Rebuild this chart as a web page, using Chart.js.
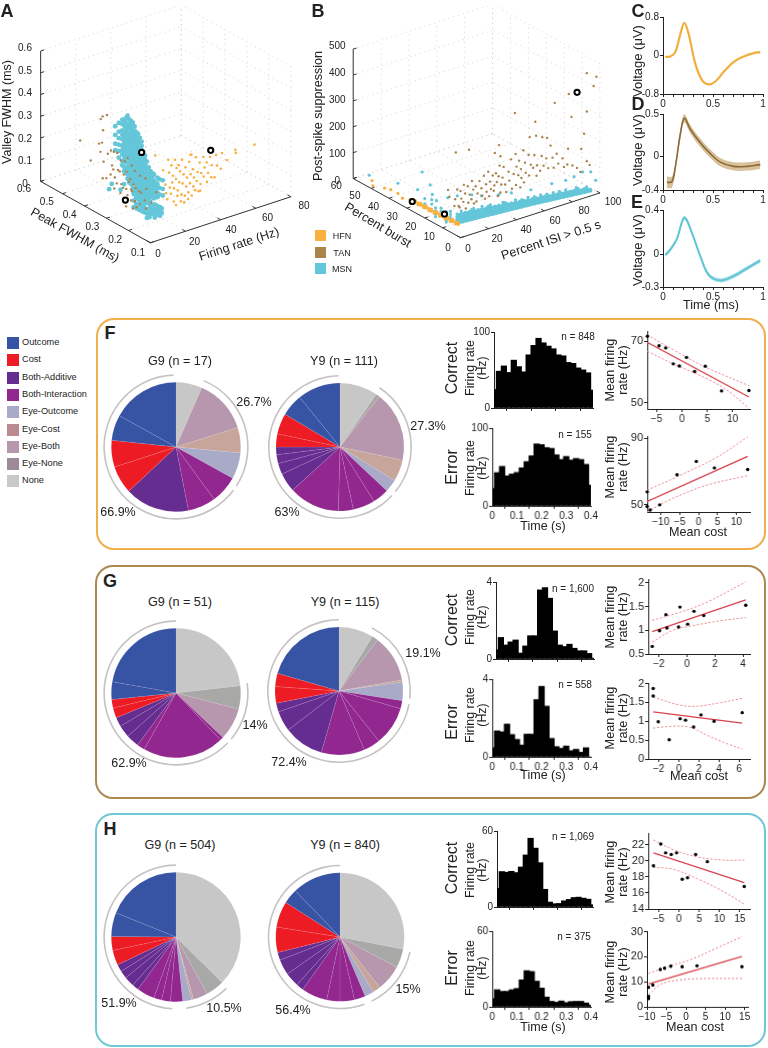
<!DOCTYPE html>
<html>
<head>
<meta charset="utf-8">
<title>Neuron classes and cost coding</title>
<script src="https://cdn.jsdelivr.net/npm/chart.js@4/dist/chart.umd.js"></script>
<style>
  html, body { margin: 0; background: #fff; }
  #page { position: relative; width: 768px; height: 1048px; overflow: hidden; font-family: "Liberation Sans", Arial, sans-serif; color: #222; }
  canvas { position: absolute; }
  .t { position: absolute; white-space: nowrap; transform-origin: center; }
  .box { position: absolute; box-sizing: border-box; border-radius: 18px; border: 2px solid; }
  .sw { position: absolute; }
</style>
</head>
<body>
<div id="page"></div>
<script>
// ---- data: 3D clouds ----
// panel A triples: firing rate (Hz), peak FWHM (ms), valley FWHM (ms)
const hfnA = [
  [13.5,.15,.27],[14.8,.15,.2],[15.2,.15,.16],[16.4,.15,.31],[16.9,.15,.25],[17.3,.15,.18],[15.8,.15,.13],[18.2,.15,.28],[19.1,.15,.23],
  [18.7,.15,.2],[17.9,.15,.15],[19.6,.15,.11],[20.3,.15,.3],[21.2,.15,.26],[20.8,.15,.21],[19.7,.15,.17],[21.6,.15,.13],[20.9,.15,.09],
  [22.4,.15,.27],[23.1,.15,.24],[22.7,.15,.19],[21.9,.15,.155],[23.6,.15,.1],[24.3,.15,.29],[25.2,.15,.22],[24.6,.15,.18],[23.9,.15,.13],
  [25.5,.15,.09],[26.2,.15,.25],[27.1,.15,.2],[26.6,.15,.16],[25.9,.15,.12],[27.7,.15,.1],[28.3,.15,.27],[29.2,.15,.21],[28.8,.15,.17],
  [27.9,.15,.13],[29.6,.15,.3],[30.4,.15,.23],[31.1,.15,.19],[30.7,.15,.15],[29.8,.15,.11],[32.2,.15,.28],[33.1,.15,.21],[32.6,.15,.17],
  [31.7,.15,.13],[34.3,.15,.25],[35.2,.15,.2],[34.8,.15,.15],[33.7,.15,.12],[36.4,.15,.27],[37.1,.15,.22],[36.6,.15,.18],[38.3,.15,.24],
  [39.1,.15,.19],[38.5,.15,.15],[40.2,.15,.26],[41.1,.15,.22],[40.9,.15,.165],[43.7,.15,.26],[44.2,.15,.21],[42.8,.15,.16],[47,.15,.26],
  [46.3,.15,.19],[50,.15,.22],[54.6,.15,.255],[54.9,.15,.24],[65.5,.15,.25],[9,.15,.35],[29,.15,.3],[34.6,.15,.12]
];
const tanA = [
  [0,.42,.29],[3.5,.4,.2],[2,.35,.31],[3,.35,.42],[2.8,.35,.27],[4,.35,.43],[4.3,.35,.365],[3.7,.35,.31],[4.6,.35,.22],[4.1,.35,.145],
  [6.5,.35,.43],[7,.35,.25],[6.2,.35,.14],[8.8,.35,.26],[9.4,.35,.19],[8.6,.35,.15],[10.4,.35,.25],[10.1,.35,.17],[11,.35,.13],[10.7,.35,.08],
  [12.3,.35,.24],[12.8,.35,.16],[12.1,.35,.1],[14.4,.35,.2],[13.8,.35,.15],[14.7,.35,.09],[14.2,.35,.05],[16.6,.35,.19],[16.1,.35,.13],
  [15.7,.35,.07],[18.3,.35,.2],[17.7,.35,.14],[18.9,.35,.09],[18.2,.35,.03],[20.6,.35,.16],[19.8,.35,.1],[20.2,.35,.05],[22.4,.35,.13],
  [21.7,.35,.07],[25.3,.35,.1],[24.8,.35,.03],[5,.25,.15],[5.6,.25,.1],[4.9,.25,.07],[8.3,.25,.13],[7.7,.25,.09],[8.8,.25,.05],[10.4,.25,.14],
  [9.9,.25,.08],[10.9,.25,.05],[13.4,.25,.11],[12.8,.25,.06],[16,.25,.17],[16.5,.25,.12],[15.6,.25,.07],[16.2,.25,.03],[19.2,.25,.05],[22,.25,.09]
];
// rows are [a, b, [c, c, ...]]
const msnARows = [
  [1.5,.3,[.13]], [3,.3,[.15]], [5,.3,[.41,.37,.33,.3]], [7,.3,[.42,.38,.35,.32,.29,.26]], [8,.3,[.11]], [10,.3,[.13]],
  [9,.3,[.43,.41,.38,.36,.34,.31,.29,.27,.24,.22]],
  [10,.3,[.42,.4,.37,.35,.32,.3,.28,.26,.24,.21,.19]],
  [11,.3,[.43,.41,.39,.37,.35,.33,.31,.29,.27,.25,.23,.2,.18]],
  [12,.3,[.44,.4,.38,.36,.33,.31,.29,.27,.25,.22,.2,.17,.15]],
  [13,.3,[.42,.4,.38,.36,.34,.32,.3,.28,.26,.24,.22,.2,.18,.16,.13]],
  [14,.3,[.41,.39,.37,.35,.33,.31,.29,.27,.25,.23,.21,.19,.17,.14,.12]],
  [15,.3,[.4,.37,.35,.33,.31,.29,.27,.25,.23,.21,.19,.17,.15,.13,.1]],
  [16,.3,[.38,.36,.34,.32,.3,.28,.26,.24,.22,.2,.18,.16,.14,.12,.09,.07]],
  [17,.3,[.35,.33,.31,.29,.27,.25,.23,.21,.19,.17,.15,.13,.11,.09,.07,.05]],
  [18,.3,[.34,.32,.3,.28,.26,.24,.22,.2,.18,.16,.14,.12,.1,.08,.06,.04]],
  [19,.3,[.32,.3,.27,.25,.23,.21,.19,.17,.15,.13,.11,.09,.07,.05,.03]],
  [20,.3,[.3,.28,.26,.24,.22,.2,.18,.16,.14,.12,.1,.08,.06,.04,.02]],
  [21,.3,[.25,.22,.2,.18,.16,.14,.12,.1,.08,.06,.04,.02]],
  [22,.3,[.23,.21,.19,.17,.15,.13,.11,.09,.07,.05,.03,.01]],
  [23,.3,[.2,.17,.15,.13,.11,.09,.07,.05,.03,.01]],
  [24,.3,[.17,.14,.12,.1,.08,.06,.04,.02]],
  [25,.3,[.15,.13,.11,.09,.07,.05,.03,.01]], [26,.3,[.14,.12,.1,.07,.05,.03]], [27,.3,[.13,.1,.08,.06,.04,.02]],
  [28,.3,[.09,.07,.05,.03]], [29,.3,[.11,.08,.06,.04,.02]], [30,.3,[.1,.06,.03]], [32,.3,[.09,.05,.02]],
  [3,.2,[.16,.13,.1]], [4.5,.2,[.14,.11,.09]], [6,.2,[.13,.1,.08]], [7.5,.2,[.11,.09,.07]], [9,.2,[.1,.08,.06]],
  [10.5,.2,[.1,.07,.05,.03]], [12,.2,[.09,.07,.05,.03]], [13.5,.2,[.08,.06,.04]],
  [15,.2,[.08,.06,.04,.02]], [16.5,.2,[.07,.05,.03]], [18,.2,[.06,.04,.02]], [19,.2,[.05,.03]]
];
const markedA = [[40.6,.15,.29], [20,.3,.25], [4.5,.25,.1]];

// panel B: percent ISI > 0.5 s, percent burst, post-spike suppression
const hfnBRows = [
  [1,2,[42,50]], [1,3.5,[38,46]], [1,5,[41,49]], [1,6.5,[36,44]], [1,8,[39,47]], [1,9.5,[35,43]], [1,11,[38,46]],
  [1,12.5,[34,43]], [1,14,[38,45]], [1,15.5,[33,41]], [1,17,[36,44]], [1,18.5,[32,41]], [1,20,[37,44]],
  [1,21.5,[33,41]], [1,23,[36,43]], [1,24.5,[32,40]], [1,26,[35,42]], [1,27.5,[34,40]], [1,29,[35]],
  [0,32.5,[29]], [0,35,[38]], [0,39,[37]], [0,42.5,[30]], [0,49,[14]], [0,49.5,[32]]
];
const tanB = [
  [0,7,158],[1,7,130],[2,5,100],[3,5,305],[4,5,160],[2.5,5,125],[5,5,95],[6.4,5,150],[7,5,120],[5.8,5,88],[8.8,5,170],[9.7,5,135],[8.4,5,105],
  [10.2,5,76],[12.5,5,299],[11.6,5,160],[13,5,125],[12,5,95],[14.6,5,175],[15.5,5,140],[14.2,5,105],[16.1,5,85],[17.3,5,150],[18.6,5,120],
  [17.8,5,90],[20,5,165],[21.4,5,135],[22,5,105],[23.2,5,180],[24.7,5,145],[25.1,5,115],[23.9,5,90],[26.3,5,190],[27.6,5,150],[28.2,5,120],
  [26.9,5,95],[29.5,5,170],[30.6,5,130],[31,5,255],[31.8,5,175],[32.4,5,140],[30.2,5,110],[33.1,5,85],[34,5,280],[34.4,5,200],[33.7,5,160],
  [35.6,5,125],[34.9,5,95],[35,5,235],[36.5,5,150],[37.3,5,190],[38.4,5,120],[39.2,5,90],[40.8,5,165],[41.4,5,130],[42.6,5,210],[43.3,5,95],
  [44.5,5,150],[45.4,5,384],[45.9,5,225],[46.6,5,175],[46.2,5,105],[47.8,5,140],[48.4,5,195],[49.7,5,160],[50.1,5,125],[49.3,5,90],[51.4,5,230],
  [52.6,5,180],[53.2,5,140],[51.9,5,105],[55.2,5,205],[56,5,273],[56.8,5,165],[55.6,5,125],[58.5,5,150],[59.4,5,198],[60,5,325],[60.6,5,270],
  [61.3,5,155],[60.9,5,115],[63.5,5,130],[65,5,257],[64.6,5,185],[66,5,145],[68.5,5,248],[67.9,5,170],[69.3,5,130],[71,5,214],[72.4,5,165],
  [73.2,5,125],[74,5,374],[75.4,5,175],[76.5,5,135],[79.5,5,150],[80.6,5,115],[83.5,5,180],[84,5,391],[83,5,120],[86,5,299],[86.7,5,110],
  [90,5,95],[93,5,163],[92.4,5,75],[95,5,218],[97,5,449],[97,5,301],[97,5,109],[99,5,91],[100,2,441],[98,2,409]
];
const msnBRows = [
  [0,2,[50,58,66,74,84]], [1.5,2,[48,55,63,70,79]], [3,2,[47,56,64,72,81,90]], [4.5,2,[46,54,62,70,78]], [6,2,[46,55,63,71,80]],
  [7.5,2,[45,52,60,68,76]], [9,2,[45,53,62,70,79]], [10.5,2,[44,51,59,66,74,83]], [12,2,[44,52,60,69,77,85]],
  [13.5,2,[43,50,58,65,72]], [15,2,[43,51,59,67,75]], [16.5,2,[42,49,56,63,71]], [18,2,[42,50,58,65,74,82]],
  [19.5,2,[41,48,54,61,69]], [21,2,[41,48,56,63,71]], [22.5,2,[39,46,53,60,67,76]], [24,2,[40,47,55,62,70,78]],
  [25.5,2,[38,45,51,58,65]], [27,2,[38,46,53,60,68]], [28.5,2,[37,44,50,56,63]], [30,2,[37,45,52,59,66,107]],
  [31.5,2,[36,42,48,54,61]], [33,2,[36,43,50,57,64,72]], [34.5,2,[35,41,47,53,59,68]], [36,2,[35,42,48,55,62]],
  [37.5,2,[34,40,45,51,57]], [39,2,[34,41,47,53,60,98]], [40.5,2,[33,38,44,49,55]], [42,2,[33,39,46,52,58,66]],
  [43.5,2,[31,37,42,47,53]], [45,2,[32,38,44,50,56]], [46.5,2,[30,36,41,46,51,59]], [48,2,[31,37,43,48,54]],
  [49.5,2,[29,34,39,44,49]], [51,2,[29,35,40,46,52,60]], [52.5,2,[28,33,37,42,47]], [53,2,[86]], [54,2,[28,34,39,44,50]],
  [55.5,2,[27,31,36,40,46,55]], [57,2,[27,32,37,42,48]], [58.5,2,[25,30,34,38,43]], [60,2,[25,30,35,40,46,54]],
  [61.5,2,[24,28,32,37,42]], [63,2,[24,29,33,38,44]], [64.5,2,[22,27,31,35,40,49]], [66,2,[22,27,32,36,41]], [67.5,2,[21,25,29,33,37]],
  [68,2,[84]], [69,2,[21,25,30,34,39,47]], [70.5,2,[19,24,27,31,36]], [72,2,[19,24,28,32,37]], [73.5,2,[18,22,26,29,34,44]],
  [75,2,[18,22,26,30,35]], [76.5,2,[16,20,24,28,32]], [78,2,[16,20,24,28,33,42,79]], [79.5,2,[15,19,22,26,30]], [81,2,[14,18,22,26,31]],
  [82.5,2,[13,17,21,24,29]], [84,2,[13,17,21,25,30,83]], [85.5,2,[12,16,19,23,27,38]], [87,2,[11,15,19,24,32]], [88.5,2,[10,14,18,21]],
  [90,2,[10,14,18,23,91]], [91.5,2,[9,13,17,24]], [93,2,[8,13,18,28]], [94.5,2,[8,12,16]], [96,2,[7,12,81]], [99.5,2,[42]],
  [17.5,2,[124]], [10.6,2,[140]], [0,1.8,[155]], [0,7.2,[127]], [0,8,[30,38,48,58,70]], [3,8,[32,42,54,66]],
  [0,13.4,[92]], [0,14,[28,38,50,62]], [4,14,[30,42,54]], [0,15.8,[107]], [0,17,[139]], [0,20,[40,55,75]], [5,20,[45,62]],
  [0,21.5,[172]], [0,24,[94]], [0,35,[77]], [0,51,[47]]
];
const markedB = [[90,5,387], [0,27,37], [1.3,10,51]];

// ---- data: waveforms C, D, E ----
const cTime = [.023,.073,.123,.173,.213,.257,.323,.39,.457,.523,.607,.707,.807,.907,.973];
const cVolt = [-.03,-.02,.07,.44,.68,.44,-.17,-.51,-.6,-.54,-.34,-.13,-.02,.05,.07];
const dTime = [.04,.09,.123,.173,.213,.273,.373,.473,.573,.707,.84,.973];
const dVolt = [-.31,-.3,-.13,.26,.45,.32,.16,.03,-.07,-.12,-.12,-.1];
const dUpper = [-.24,-.24,-.08,.31,.5,.37,.21,.08,-.02,-.07,-.07,-.05];
const dLower = [-.38,-.37,-.18,.21,.4,.27,.11,-.02,-.12,-.17,-.17,-.15];
const eTime = [.023,.073,.14,.213,.29,.373,.457,.573,.707,.84,.973];
const eVolt = [-.01,.04,.14,.33,.19,-.02,-.19,-.24,-.2,-.13,-.06];
const eUpper = [.01,.06,.16,.35,.21,0,-.17,-.22,-.18,-.11,-.04];
const eLower = [-.03,.02,.12,.31,.17,-.04,-.21,-.26,-.22,-.15,-.08];

// ---- data: legend and pies, shares in degrees clockwise from the top ----
const pieLegend = ['Outcome','Cost','Both-Additive','Both-Interaction','Eye-Outcome','Eye-Cost','Eye-Both','Eye-None','None'];
const legendColors = ['#3753a4','#ed1c24','#662d91','#92278f','#a9aac8','#bb8a90','#b697ad','#9c8a98','#c8c8c8'];
const kindColors = { O:'#3753a4', C:'#ed1c24', BA:'#662d91', BI:'#92278f', EO:'#a9aac8', EC:'#c8a59a', EB:'#b697ad', EN:'#a8a8a6', N:'#c8c7c7' };

const fG9Share = [23.5,49,22.7,23.7,25,25,58,25,24,23,61];
const fG9Kind = 'N EB EC EO BI BI BA C C O O'.split(' ');
const fG9Ring = [22.6,100.4,4,231,2];
const fY9Share = [34.5,3.5,64,19.5,11.5,15,20,13.5,46.2,17.3,10,8,7,12,18.8,20.2,39];
const fY9Kind = 'N EN EB EC EO BI BI BI BI BA BA BA BA C C O O'.split(' ');
const fY9Ring = [33.7,95.3,4,226,1];
const gG9Share = [83.5,21,29,3,73,7,11.6,11.1,8.3,9,7.7,15.9,79.9];
const gG9Kind = 'N EN EB BI BI BI BA BA BA C C O O'.split(' ');
const gG9Ring = [82,48,4,226,0];
const gY9Share = [31.5,5.5,43,2,16.8,7.2,35.5,15.2,39.3,36.5,18.5,8,15,12,74];
const gY9Kind = 'N EN EB EC EO BI BI BI BI BA BA BA C C O'.split(' ');
const gY9Ring = [27.6,68.4,4.6,259.4,0];
const hG9Share = [134.6,16.7,13,1.7,8,11,8,7,16,6,9,7,6.6,13.4,12.5,21.5,68];
const hG9Kind = 'N EN EB EC EO BI BI BI BI BA BA BA BA C C O O'.split(' ');
const hG9Ring = [135.6,36.4,11,177,0];
const hY9Share = [101,17,23.8,7,8.2,10,13,12,23.4,6.6,13,14,7,23,23.5,13.5,44];
const hY9Kind = 'N EN EB EC EO BI BI BI BI BA BA BA BA C C O O'.split(' ');
const hY9Ring = [102,51.8,6.2,200,0];

// ---- data: firing rate histograms, 0.02 s bins from 0 to 0.4 s ----
const histTime = [0,.02,.04,.06,.08,.1,.12,.14,.16,.18,.2,.22,.24,.26,.28,.3,.32,.34,.36,.38,.4];
const fHistCorrect = [24.5,48.5,55.4,46.8,63,54.5,47.6,70,82.4,91.8,85.8,81.5,78,70,68.7,60,58.8,52.8,50.2,46.4,23.6];
const fHistError = [22.5,42.8,50.8,38.6,41,43,49,57,64.4,79.7,78.8,75,74,65.7,59.7,63.6,59,61,59.7,53.4,26.7];
const gHistCorrect = [.48,1.12,.73,.89,.99,.31,.68,1.21,1.21,3.59,3.71,3.16,1.46,.73,.65,.77,.56,.43,.43,.29,.05];
const gHistError = [.47,1.34,1.29,1.69,1.15,.9,.61,1.17,1.17,2.95,3.63,2.61,.95,.53,.44,.56,.32,.39,.24,.47,0];
const hHistCorrect = [14.7,28,27.5,28.2,27.2,31.6,41.1,54.3,46.5,35,14,3.9,2.6,2.8,4.9,6,7.5,7.8,7,6.2,1.8];
const hHistError = [6.5,13.6,12.3,12.3,13.6,14.6,21.4,28.7,28,20.4,14.9,7.8,4.4,3.7,4.7,3.4,4.2,4.4,4.4,3.1,1.3];
const histTimeTicks = [0,.1,.2,.3,.4];

// ---- data: mean firing rate against mean cost, [cost, rate] ----
const fCorrectDots = [[-6.8,71.7],[-4.5,68.6],[-3.2,67.9],[-1.7,62.7],[-.5,62],[.9,64.8],[2.5,60.2],[4.6,61.9],[7.8,53.9],[13.2,54]];
const fCorrectFit = [[-6.84,69.7],[13.2,51.9]];
const fCorrectUpper = [[-6.8,72.1],[-1.7,67.3],[4.2,62],[13.2,55.6]];
const fCorrectLower = [[-6.8,66.8],[-1.6,62.6],[5,57.8],[9,54],[13.2,48.2]];
const fErrorDots = [[-13.6,57.8],[-13.6,49],[-12.8,46.9],[-10.3,50],[-5.7,68.1],[-.6,76.1],[4.2,72.2],[13,71.2]];
const fErrorFit = [[-13.6,52],[13,79.1]];
const fErrorUpper = [[-13.6,58.8],[-5,67.6],[4.7,78.4],[13,90.8]];
const fErrorLower = [[-13.6,46],[-6.8,53.9],[2,61.7],[13,67.6]];
const gCorrectDots = [[-2.48,.66],[-1.96,.99],[-1.5,1.33],[-1.43,1.05],[-.6,1.07],[-.5,1.49],[.05,1.13],[.5,1.4],[1.2,1.31],[4.2,1.53]];
const gCorrectFit = [[-2.48,.97],[4.2,1.64]];
const gCorrectUpper = [[-2.48,1.21],[-.5,1.38],[1.4,1.59],[4.2,2.02]];
const gCorrectLower = [[-2.48,.75],[-1,1],[.45,1.1],[2.35,1.2],[4.2,1.27]];
const gErrorDots = [[-2.55,1.87],[-2.55,1.67],[-2.05,.99],[-.96,.51],[.13,1.07],[.66,1.03],[1.46,.85],[2.2,1.17],[3.5,1],[6.3,1.23]];
const gErrorFit = [[-2.55,1.25],[6.3,.95]];
const gErrorUpper = [[-2.55,1.64],[.1,1.43],[1.75,1.4],[4.05,1.49],[6.3,1.61]];
const gErrorLower = [[-2.55,.82],[-.55,.87],[1.1,.84],[2.8,.63],[4.75,.41],[6.3,.26]];
const hCorrectDots = [[-6.3,19.4],[-4.5,22.1],[-3.3,21],[-1.9,20.8],[-.6,21],[.8,17.7],[2.1,17.9],[4.1,20.8],[7,19.9],[16.1,16.8]];
const hCorrectFit = [[-6.3,21],[16.1,17.3]];
const hCorrectUpper = [[-6.3,22.6],[-1.4,21.4],[4.4,20.5],[10.9,20.1],[16.1,20.1]];
const hCorrectLower = [[-6.3,19.2],[-1.4,18.95],[4.4,17.8],[10.9,16.2],[16.1,14.6]];
const hErrorDots = [[-9.6,7.8],[-9.6,4.2],[-9.6,3.3],[-8.5,8.7],[-6.6,14.9],[-5.5,15.4],[-3.9,16.2],[-1,16],[2.8,16.4],[14.3,16]];
const hErrorFit = [[-9.6,9.1],[14.3,20.1]];
const hErrorUpper = [[-9.6,13.3],[-5.5,15.6],[1.2,18.9],[7.9,23.5],[14.3,28]];
const hErrorLower = [[-9.6,4.8],[-6.4,9.1],[-1.3,10.8],[4.6,11.3],[14.3,11.3]];

const HFN = '#f9b03f', TAN = '#a9844c', MSN = '#64c6d9';
const page = document.getElementById('page');
Chart.defaults.font.family = '"Liberation Sans", Arial, sans-serif';
Chart.defaults.color = '#222';
Chart.defaults.animation = false;
Chart.defaults.responsive = false;
Chart.defaults.devicePixelRatio = 1;
Chart.defaults.events = [];
Chart.defaults.plugins.legend.display = false;
Chart.defaults.plugins.tooltip.enabled = false;

function txt(s, x, y, size, rot, weight) {
  const d = document.createElement('div');
  d.className = 't';
  d.textContent = s;
  d.style.left = x + 'px';
  d.style.top = y + 'px';
  d.style.fontSize = size + 'px';
  if (weight) d.style.fontWeight = weight;
  d.style.transform = 'translate(-50%,-50%) rotate(' + (rot || 0) + 'deg)';
  page.appendChild(d);
}

function addCanvas(l, t, w, h) {
  const c = document.createElement('canvas');
  c.width = w; c.height = h;
  c.style.left = l + 'px'; c.style.top = t + 'px';
  c.style.width = w + 'px'; c.style.height = h + 'px';
  page.appendChild(c);
  return c;
}

function addBox(l, t, r, b, color) {
  const d = document.createElement('div');
  d.className = 'box';
  d.style.cssText = 'left:' + l + 'px;top:' + t + 'px;width:' + (r - l) + 'px;height:' + (b - t) + 'px;border-color:' + color;
  page.appendChild(d);
}

// ---- 3D panels: project each triple onto the page plane ----
function rows3(rows) {
  return rows.flatMap(r => r[2].map(c => [r[0], r[1], c]));
}

function cloud3d(view) {
  const project = (a, b, c) => ({
    x: view.o[0] + (a - view.aAxis[0]) / (view.aAxis[1] - view.aAxis[0]) * view.a[0] + (b - view.bAxis[0]) / (view.bAxis[1] - view.bAxis[0]) * view.b[0],
    y: view.o[1] + (a - view.aAxis[0]) / (view.aAxis[1] - view.aAxis[0]) * view.a[1] + (b - view.bAxis[0]) / (view.bAxis[1] - view.bAxis[0]) * view.b[1]
      + (c - view.cAxis[0]) / (view.cAxis[1] - view.cAxis[0]) * view.c
  });
  const aMin = view.aAxis[0], aMax = view.aAxis[1], bMin = view.bAxis[0], bMax = view.bAxis[1], cMin = view.cAxis[0], cMax = view.cAxis[1];
  const line = (p, q, color, dash, width) => ({ data: [project(...p), project(...q)], showLine: true, pointRadius: 0, borderColor: color, borderWidth: width, borderDash: dash });
  const datasets = [];
  const dot = [1, 4];
  view.aTicks.forEach(a => {
    datasets.push(line([a, bMin, cMin], [a, bMax, cMin], '#d6d2cf', dot, 1));
    datasets.push(line([a, bMax, cMin], [a, bMax, cMax], '#d6d2cf', dot, 1));
  });
  view.bTicks.forEach(b => {
    datasets.push(line([aMin, b, cMin], [aMax, b, cMin], '#d6d2cf', dot, 1));
    datasets.push(line([aMax, b, cMin], [aMax, b, cMax], '#d6d2cf', dot, 1));
  });
  view.cTicks.forEach(c => {
    datasets.push(line([aMin, bMax, c], [aMax, bMax, c], '#d6d2cf', dot, 1));
    datasets.push(line([aMax, bMin, c], [aMax, bMax, c], '#d6d2cf', dot, 1));
  });
  datasets.push(line([aMin, bMin, cMin], [aMax, bMin, cMin], '#333', [], 1));
  datasets.push(line([aMin, bMin, cMin], [aMin, bMax, cMin], '#333', [], 1));
  datasets.push(line([aMin, bMax, cMin], [aMin, bMax, cMax], '#333', [], 1));
  const da = (aMax - aMin) * .025, db = (bMax - bMin) * .03;
  view.aTicks.forEach(a => datasets.push(line([a, bMin, cMin], [a, bMin + db, cMin], '#333', [], 1)));
  view.bTicks.forEach(b => datasets.push(line([aMin, b, cMin], [aMin + da, b, cMin], '#333', [], 1)));
  view.cTicks.forEach(c => datasets.push(line([aMin, bMax, c], [aMin + da, bMax, c], '#333', [], 1)));
  view.groups.forEach(g => datasets.push({
    data: g.rows.map(p => project(...p)), pointRadius: g.r, pointBackgroundColor: g.color, pointBorderWidth: 0, showLine: false
  }));
  datasets.push({ data: view.marked.map(p => project(...p)), pointRadius: 2.6, pointBackgroundColor: '#fff', pointBorderColor: '#000', pointBorderWidth: 2, showLine: false });
  datasets.reverse(); // first dataset is painted last
  const box = view.box;
  new Chart(addCanvas(box[0], box[1], box[2], box[3]), {
    type: 'scatter',
    data: { datasets },
    options: {
      scales: {
        x: { display: false, type: 'linear', min: box[0], max: box[0] + box[2] },
        y: { display: false, type: 'linear', min: box[1], max: box[1] + box[3], reverse: true }
      }
    }
  });
  view.aTicks.forEach(a => { const p = project(a, bMin, cMin); txt(String(a), p.x + 8, p.y + 6, 10); });
  view.bTicks.forEach(b => { const p = project(aMin, b, cMin); txt(String(b), p.x - 12, p.y + 5, 10); });
  view.cTicks.forEach(c => { const p = project(aMin, bMax, c); txt(String(c), p.x - 11, p.y, 10); });
}

cloud3d({
  box: [0, 0, 320, 290], o: [150, 247], a: [146, -48], b: [-114, -64], c: -136,
  aAxis: [0, 80], bAxis: [.1, .6], cAxis: [0, .6],
  aTicks: [0, 20, 40, 60, 80], bTicks: [.1, .2, .3, .4, .5, .6], cTicks: [0, .1, .2, .3, .4, .5, .6],
  groups: [{ rows: hfnA, color: HFN, r: 1.3 }, { rows: rows3(msnARows), color: MSN, r: 2.4 }, { rows: tanA, color: TAN, r: 1.2 }],
  marked: markedA
});
cloud3d({
  box: [320, 0, 310, 290], o: [460, 241.7], a: [145, -46.7], b: [-111.7, -61.7], c: -135,
  aAxis: [0, 100], bAxis: [0, 60], cAxis: [0, 500],
  aTicks: [0, 20, 40, 60, 80, 100], bTicks: [0, 10, 20, 30, 40, 50, 60], cTicks: [0, 100, 200, 300, 400, 500],
  groups: [{ rows: rows3(msnBRows), color: MSN, r: 1.6 }, { rows: tanB, color: TAN, r: 1.2 }, { rows: rows3(hfnBRows), color: HFN, r: 1.6 }],
  marked: markedB
});

txt('A', 7, 11, 18, 0, 'bold');
txt('B', 318, 11, 18, 0, 'bold');
txt('Valley FWHM (ms)', 7, 112, 12.5, -90);
txt('Peak FWHM (ms)', 75, 235, 12.5, 29);
txt('Firing rate (Hz)', 239, 244, 12.5, -18);
txt('Post-spike suppression', 318, 116, 12.6, -90);
txt('Percent burst', 377.5, 225, 12.6, 31);
txt('Percent ISI > 0.5 s', 551, 240, 12.6, -18);
[['HFN', HFN, 230], ['TAN', TAN, 247], ['MSN', MSN, 263]].forEach(k => {
  const s = document.createElement('div');
  s.className = 'sw';
  s.style.cssText = 'left:315px;top:' + k[2] + 'px;width:11px;height:11px;background:' + k[1];
  page.appendChild(s);
  txt(k[0], 342, k[2] + 5.5, 9);
});

// ---- axis helpers for the flat charts ----
const M = { l: 28, r: 14, t: 6, b: 17 };

function axis(min, max, ticks, opts) {
  opts = opts || {};
  return {
    type: 'linear', min, max, offset: false,
    afterBuildTicks: s => { s.ticks = ticks.map(v => ({ value: v })); },
    border: { color: '#222', width: 1 },
    grid: { drawOnChartArea: false, drawTicks: true, tickLength: 3, color: '#222' },
    ticks: {
      display: opts.noLabels ? false : true,
      autoSkip: false, maxRotation: 0, padding: 1,
      font: { size: opts.size || 10 },
      callback: opts.label || (v => String(v).replace('-', '\u2212'))
    }
  };
}

function plot(box, type, datasets, xAxis, yAxis) {
  xAxis.afterFit = s => { s.height = M.b; };
  yAxis.afterFit = s => { s.width = M.l; };
  return new Chart(addCanvas(box[0] - M.l, box[1] - M.t, box[2] + M.l + M.r, box[3] + M.t + M.b), {
    type,
    data: { datasets },
    options: {
      layout: { padding: { top: M.t, right: M.r, left: 0, bottom: 0 } },
      scales: { x: xAxis, y: yAxis }
    }
  });
}

// ---- waveforms ----
const zip = (xs, ys) => xs.map((x, i) => ({ x, y: ys[i] }));
function wave(box, time, volt, upper, lower, color, band, width, yMin, yMax, yTicks) {
  const ds = [{ data: zip(time, volt), showLine: true, pointRadius: 0, borderColor: color, borderWidth: width, tension: .35 }];
  if (upper) {
    ds.push({ data: zip(time, upper), showLine: true, pointRadius: 0, borderWidth: 0, borderColor: band, backgroundColor: band, fill: '+1', tension: .35 });
    ds.push({ data: zip(time, lower), showLine: true, pointRadius: 0, borderWidth: 0, borderColor: band, tension: .35 });
  }
  const minor = [0,.1,.2,.3,.4,.5,.6,.7,.8,.9,1];
  plot(box, 'scatter', ds,
    axis(0, 1, minor, { label: v => (v === 0 || v === .5 || v === 1 ? String(v) : '') }),
    axis(yMin, yMax, yTicks, { label: v => String(v) }));
}
wave([662.7, 16, 100, 78.3], cTime, cVolt, null, null, '#f2ae3d', null, 2.2, -.8, .8, [-.8, 0, .8]);
wave([662.7, 112.7, 100, 77.3], dTime, dVolt, dUpper, dLower, '#8c6a35', '#d9c19b', 1.6, -.4, .5, [-.4, 0, .5]);
wave([662.7, 209.3, 100, 78], eTime, eVolt, eUpper, eLower, '#62c5d6', '#b5e3ea', 2, -.3, .4, [-.3, 0, .4]);
txt('C', 638, 11, 18, 0, 'bold');
txt('D', 638, 104, 18, 0, 'bold');
txt('E', 637, 202, 18, 0, 'bold');
txt('Voltage (\u03bcV)', 637, 61, 13, -90);
txt('Voltage (\u03bcV)', 637, 150, 13, -90);
txt('Voltage (\u03bcV)', 637, 250, 13, -90);
txt('Time (ms)', 711, 305, 12.5);

// ---- legend of the pies ----
pieLegend.forEach((name, i) => {
  const s = document.createElement('div');
  s.className = 'sw';
  s.style.cssText = 'left:7px;top:' + (337 + i * 17.3) + 'px;width:12px;height:12px;background:' + legendColors[i];
  page.appendChild(s);
  const d = document.createElement('div');
  d.className = 't';
  d.textContent = name;
  d.style.cssText = 'left:22px;top:' + (337 + i * 17.3) + 'px;font-size:9.2px;line-height:11px';
  d.style.transform = 'none';
  page.appendChild(d);
});

// ---- panel frames ----
addBox(96, 318, 766, 550, '#f0ae4c');
addBox(95, 565, 766, 799, '#ab8a52');
addBox(95, 813, 766, 1047, '#70c8d4');
txt('F', 110, 333, 18, 0, 'bold');
txt('G', 110, 581, 18, 0, 'bold');
txt('H', 110, 829, 18, 0, 'bold');

// ---- pies: outer ring, spacer, slices ----
function pie(cx, cy, r, share, kind, ring) {
  const ringColors = ring.map((v, i) => (i % 2 ? '#c6c2c2' : 'rgba(0,0,0,0)'));
  new Chart(addCanvas(cx - 80, cy - 80, 160, 160), {
    type: 'doughnut',
    data: {
      datasets: [
        { data: ring, backgroundColor: ringColors, borderWidth: 0, weight: 1.6 },
        { data: [1], backgroundColor: 'rgba(0,0,0,0)', borderWidth: 0, weight: 6.4 },
        { data: share, backgroundColor: kind.map(k => kindColors[k]), borderColor: 'rgba(235,225,235,.18)', borderWidth: .6, weight: r }
      ]
    },
    options: { cutout: 0, radius: r + 8 }
  });
}
pie(176, 447.3, 64.7, fG9Share, fG9Kind, fG9Ring);
pie(340, 447.3, 64, fY9Share, fY9Kind, fY9Ring);
pie(176, 693, 64.7, gG9Share, gG9Kind, gG9Ring);
pie(339.3, 691, 64, gY9Share, gY9Kind, gY9Ring);
pie(176, 936.7, 64.7, hG9Share, hG9Kind, hG9Ring);
pie(340, 936.7, 64.3, hY9Share, hY9Kind, hY9Ring);

txt('G9 (n = 17)', 180, 361, 12.6);
txt('Y9 (n = 111)', 344, 361, 12.6);
txt('26.7%', 254, 402, 12.5);
txt('27.3%', 428, 426, 12.5);
txt('66.9%', 118, 512, 12.5);
txt('63%', 287, 512, 12.5);
txt('G9 (n = 51)', 180, 602, 12.6);
txt('Y9 (n = 115)', 345, 602, 12.6);
txt('14%', 255, 725, 12.5);
txt('19.1%', 423, 653, 12.5);
txt('62.9%', 129, 763, 12.5);
txt('72.4%', 289, 762, 12.5);
txt('G9 (n = 504)', 180, 845, 12.6);
txt('Y9 (n = 840)', 345, 845, 12.6);
txt('51.9%', 119, 1003, 12.5);
txt('10.5%', 224, 1008, 12.5);
txt('15%', 408, 989, 12.5);
txt('56.4%', 293, 1010, 12.5);

// ---- histograms ----
function hist(box, values, yMax, yTicks, showX) {
  plot(box, 'bar', [{
    data: zip(histTime, values), backgroundColor: '#000', borderWidth: 0,
    barThickness: 5.6
  }],
    axis(0, .4, histTimeTicks, { noLabels: !showX }),
    axis(0, yMax, yTicks));
}
hist([494.3, 330.7, 99, 77.6], fHistCorrect, 100, [0, 100], false);
hist([492.3, 427.3, 98.7, 78.7], fHistError, 100, [0, 100], true);
hist([496, 581, 98, 78.3], gHistCorrect, 4, [0, 4], false);
hist([492.3, 678.3, 98.7, 78.7], gHistError, 4, [0, 4], true);
hist([496.7, 830, 96.6, 77.3], hHistCorrect, 60, [0, 60], false);
hist([492.3, 930, 98.4, 76.7], hHistError, 60, [0, 60], true);

// ---- rate against cost ----
function fit(box, dots, line, upper, lower, xMin, xMax, xTicks, yMin, yMax, yTicks) {
  const pts = a => a.map(p => ({ x: p[0], y: p[1] }));
  const dashed = d => ({ data: pts(d), showLine: true, pointRadius: 0, borderColor: '#e77f86', borderWidth: 1, borderDash: [2, 2], tension: .35 });
  plot(box, 'scatter', [
    { data: pts(dots), pointRadius: 1.7, pointBackgroundColor: '#000', pointBorderWidth: 0, showLine: false, clip: false },
    { data: pts(line), showLine: true, pointRadius: 0, borderColor: '#d8404a', borderWidth: 1.3 },
    dashed(upper),
    dashed(lower)
  ],
    axis(xMin, xMax, xTicks),
    axis(yMin, yMax, yTicks, { size: 11 }));
}
fit([647.3, 330, 102.7, 79], fCorrectDots, fCorrectFit, fCorrectUpper, fCorrectLower, -6.84, 13.4, [-5, 0, 5, 10], 48, 73.2, [50, 70]);
fit([647.3, 435, 102.7, 77.3], fErrorDots, fErrorFit, fErrorUpper, fErrorLower, -13.6, 13.6, [-10, -5, 0, 5, 10], 45.7, 91, [50, 90]);
fit([648.3, 578.3, 101.7, 76], gCorrectDots, gCorrectFit, gCorrectUpper, gCorrectLower, -2.77, 4.5, [-2, 0, 2, 4], .5, 2.07, [.5, 1, 1.5, 2]);
fit([648.3, 681.7, 101.7, 77.6], gErrorDots, gErrorFit, gErrorUpper, gErrorLower, -3.05, 7.07, [-2, 0, 2, 4, 6], 0, 2, [0, .5, 1, 1.5, 2]);
fit([648.3, 831.7, 101.7, 77.3], hCorrectDots, hCorrectFit, hCorrectUpper, hCorrectLower, -7.6, 17.5, [-5, 0, 5, 10, 15], 14, 23.4, [14, 16, 18, 20, 22]);
fit([646.7, 930, 101.6, 76.7], hErrorDots, hErrorFit, hErrorUpper, hErrorLower, -10, 15.85, [-10, -5, 0, 5, 10, 15], 0, 30, [0, 10, 20, 30]);

// ---- labels for the right-hand columns ----
function rowLabels(name, yName, yRate, yMean, nText, nX, nY) {
  txt(name, 451.7, yName, 16, -90);
  txt('Firing rate', 470, yRate, 12.4, -90);
  txt('(Hz)', 482, yRate, 12.4, -90);
  txt('Mean firing', 610, yMean, 12.7, -90);
  txt('rate (Hz)', 623, yMean, 12.7, -90);
  txt(nText, nX, nY, 10);
}
rowLabels('Correct', 368, 368, 370, 'n = 848', 578, 336);
rowLabels('Error', 467, 468, 467, 'n = 155', 575, 434);
txt('Time (s)', 543, 526, 12.5);
txt('Mean cost', 698, 532, 12.6);
rowLabels('Correct', 620, 617, 617, 'n = 1,600', 573, 588);
rowLabels('Error', 722, 715, 718, 'n = 558', 575, 684);
txt('Time (s)', 543, 775, 12.5);
txt('Mean cost', 699, 776, 12.6);
rowLabels('Correct', 868, 870, 872, 'n = 1,069', 573, 836);
rowLabels('Error', 968, 968, 972, 'n = 375', 574, 936);
txt('Time (s)', 543, 1027, 12.5);
txt('Mean cost', 695, 1027, 12.6);
</script>
</body>
</html>
